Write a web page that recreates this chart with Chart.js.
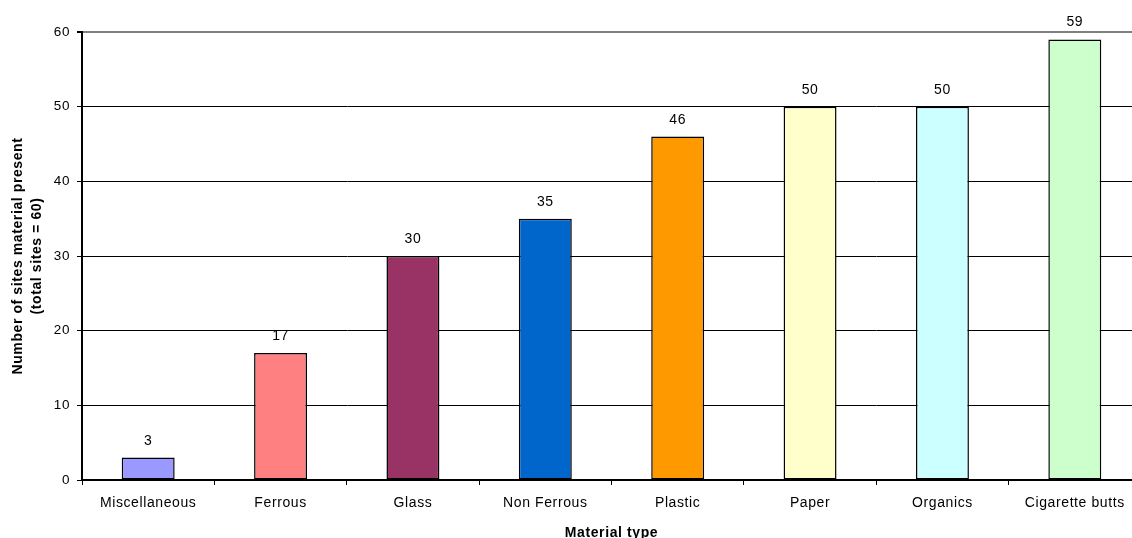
<!DOCTYPE html>
<html>
<head>
<meta charset="utf-8">
<script src="https://cdn.jsdelivr.net/npm/chart.js@4/dist/chart.umd.min.js"></script>
<style>
  html, body { margin: 0; padding: 0; background: #fff; overflow: hidden; }
  #wrap { width: 1146px; height: 538px; }
</style>
</head>
<body>
<div id="wrap"><canvas id="materialChart" width="1146" height="538"></canvas></div>
<script>
// chart data
const categories = ['Miscellaneous', 'Ferrous', 'Glass', 'Non Ferrous', 'Plastic', 'Paper', 'Organics', 'Cigarette butts'];
const sitesPresent = [3, 17, 30, 35, 46, 50, 50, 59];
const barColors = ['#9999FF', '#FF8080', '#993366', '#0066CC', '#FF9900', '#FFFFCC', '#CCFFFF', '#CCFFCC'];
const yTitle = ['Number of sites material present', '(total sites = 60)'];
const xTitle = 'Material type';

const FONT = '"Liberation Sans", Arial, sans-serif';

// wider glyph spacing like the original export
const spacing = {
    id: 'spacing',
    beforeUpdate(chart) { chart.ctx.letterSpacing = '0.6px'; },
    beforeDraw(chart) { chart.ctx.letterSpacing = '0.6px'; }
};

// value labels above each bar
const valueLabels = {
    id: 'valueLabels',
    afterDatasetsDraw(chart) {
        const ctx = chart.ctx;
        const meta = chart.getDatasetMeta(0);
        ctx.save();
        ctx.font = '14px ' + FONT;
        ctx.fillStyle = '#000';
        ctx.textAlign = 'center';
        ctx.textBaseline = 'alphabetic';
        meta.data.forEach((bar, i) => {
            ctx.fillText(String(sitesPresent[i]), bar.x, bar.y - 13);
        });
        ctx.restore();
    }
};

const ctx = document.getElementById('materialChart').getContext('2d');
new Chart(ctx, {
    type: 'bar',
    data: {
        labels: categories,
        datasets: [{
            data: sitesPresent,
            backgroundColor: barColors,
            borderColor: '#000',
            borderWidth: 1.5,
            borderSkipped: false,
            barPercentage: 0.4,
            categoryPercentage: 1
        }]
    },
    options: {
        responsive: false,
        animation: false,
        layout: { padding: { top: 32, right: 5, bottom: 0, left: 0 } },
        plugins: { legend: { display: false }, tooltip: { enabled: false } },
        scales: {
            x: {
                afterFit: s => { s.height = 58; },
                grid: { drawOnChartArea: false, tickLength: 5, color: '#000', offset: true },
                border: { color: '#000', width: 2 },
                ticks: { color: '#000', padding: 10, maxRotation: 0, autoSkip: false, font: { family: FONT, size: 14 } },
                title: { display: true, text: xTitle, color: '#000', padding: { top: 0, bottom: -2 },
                         font: { family: FONT, size: 14, weight: 'bold', lineHeight: 1 } }
            },
            y: {
                min: 0,
                max: 60,
                afterFit: s => { s.width = 82; },
                grid: {
                    color: c => (c.tick && c.tick.value === 60) ? '#808080' : '#000',
                    lineWidth: c => (c.tick && c.tick.value === 60) ? 2 : 1,
                    tickColor: '#000',
                    tickLength: 5
                },
                border: { color: '#000', width: 2 },
                ticks: { stepSize: 10, color: '#000', padding: 7, font: { family: FONT, size: 13.5 } },
                title: { display: true, text: yTitle, color: '#000', padding: { top: 8, bottom: 0 },
                         font: { family: FONT, size: 14, weight: 'bold', lineHeight: 1.4 } }
            }
        }
    },
    plugins: [spacing, valueLabels]
});
</script>
</body>
</html>
